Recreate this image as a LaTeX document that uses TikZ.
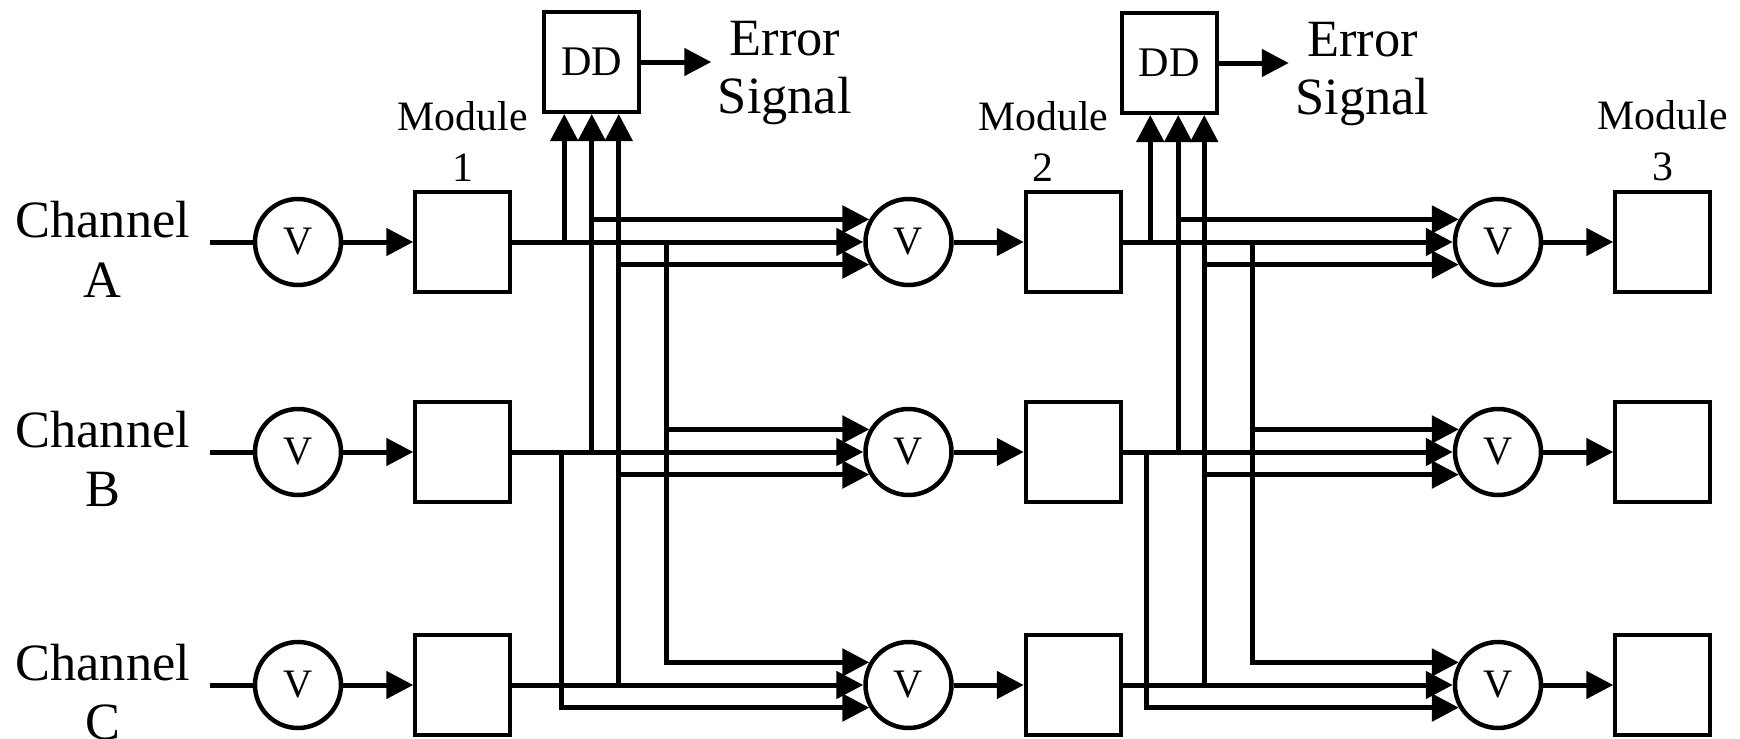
\documentclass[tikz,border=0pt]{standalone}
\usepackage{fontspec}
\setmainfont{Liberation Serif}
\usepackage{tikz}
\usetikzlibrary{arrows.meta, positioning, calc}
\tikzset{
  voter/.style={circle, draw=black, line width=0.045cm, minimum size=0.86cm,
    inner sep=0pt, font=\fontsize{11.5}{13}\selectfont},
  module/.style={rectangle, draw=black, line width=0.04cm,
    minimum width=0.95cm, minimum height=1.0cm, inner sep=0pt},
  ddblock/.style={module, font=\fontsize{12}{14}\selectfont},
  chlabel/.style={align=center, inner sep=0pt, font=\fontsize{14.9}{17}\selectfont},
  modlabel/.style={align=center, inner sep=0pt, font=\fontsize{11.9}{14.5}\selectfont},
  errlabel/.style={align=center, inner xsep=0.6mm, inner ysep=0pt,
    font=\fontsize{14.9}{16.5}\selectfont},
  arrowline/.style={-{Triangle[length=2.7mm, width=2.7mm]}, line width=0.05cm},
  wireline/.style={line width=0.05cm}
}

\begin{document}
\begin{tikzpicture}
  \useasboundingbox (0,0) rectangle (17.40,-7.39);

  % channel A
  \node[voter] (vA1) at (2.98,-2.42) {V};
  \node[module, right=7mm of vA1] (mA1) {};
  \node[voter, right=35.1mm of mA1] (vA2) {V};
  \node[module, right=7mm of vA2] (mA2) {};
  \node[voter, right=33mm of mA2] (vA3) {V};
  \node[module, right=7mm of vA3] (mA3) {};
  % channel B
  \node[voter] (vB1) at (2.98,-4.52) {V};
  \node[module, right=7mm of vB1] (mB1) {};
  \node[voter, right=35.1mm of mB1] (vB2) {V};
  \node[module, right=7mm of vB2] (mB2) {};
  \node[voter, right=33mm of mB2] (vB3) {V};
  \node[module, right=7mm of vB3] (mB3) {};
  % channel C
  \node[voter] (vC1) at (2.98,-6.85) {V};
  \node[module, right=7mm of vC1] (mC1) {};
  \node[voter, right=35.1mm of mC1] (vC2) {V};
  \node[module, right=7mm of vC2] (mC2) {};
  \node[voter, right=33mm of mC2] (vC3) {V};
  \node[module, right=7mm of vC3] (mC3) {};

  % inputs and labels
  \coordinate[left=4.3mm of vA1.west] (inA);
  \coordinate[left=4.3mm of vB1.west] (inB);
  \coordinate[left=4.3mm of vC1.west] (inC);
  \node[chlabel, left=1.9mm of inA, yshift=-0.7mm] (chA) {Channel\\A};
  \node[chlabel, left=1.9mm of inB, yshift=-0.7mm] (chB) {Channel\\B};
  \node[chlabel, left=1.9mm of inC, yshift=-0.7mm] (chC) {Channel\\C};
  \node[modlabel, above=0.8mm of mA1] (lab1) {Module\\1};
  \node[modlabel, above=0.8mm of mA2, xshift=-3mm] (lab2) {Module\\2};
  \node[modlabel, above=0.8mm of mA3] (lab3) {Module\\3};

  % disagreement detectors
  \node[ddblock, above right=7.6mm and 3mm of mA1] (dd1) {DD};
  \node[ddblock, above right=7.5mm and -0.3mm of mA2] (dd2) {DD};
  \node[errlabel, right=7mm of dd1, yshift=-1.1mm] (err1) {Error\\Signal};
  \node[errlabel, right=7mm of dd2, yshift=-1.1mm] (err2) {Error\\Signal};

  \coordinate (ddA1) at ($(dd1.south)+(-2.75mm,0)$);
  \coordinate (ddB1) at (dd1.south);
  \coordinate (ddC1) at ($(dd1.south)+(2.7mm,0)$);
  \coordinate (ddA2) at ($(dd2.south)+(-1.9mm,0)$);
  \coordinate (ddB2) at ($(dd2.south)+(0.9mm,0)$);
  \coordinate (ddC2) at ($(dd2.south)+(3.5mm,0)$);
  \coordinate (dnA1) at ($(mA1.east)+(15.4mm,0)$);
  \coordinate (dnB1) at ($(mB1.east)+(4.9mm,0)$);
  \coordinate (dnA2) at ($(mA2.east)+(12.95mm,0)$);
  \coordinate (dnB2) at ($(mB2.east)+(2.35mm,0)$);

  \draw[wireline] (inA) -- (vA1);
  \draw[wireline] (inB) -- (vB1);
  \draw[wireline] (inC) -- (vC1);
  \draw[arrowline] (vA1) -- (mA1);
  \draw[arrowline] (vB1) -- (mB1);
  \draw[arrowline] (vC1) -- (mC1);
  \draw[arrowline] (vA2) -- (mA2);
  \draw[arrowline] (vB2) -- (mB2);
  \draw[arrowline] (vC2) -- (mC2);
  \draw[arrowline] (vA3) -- (mA3);
  \draw[arrowline] (vB3) -- (mB3);
  \draw[arrowline] (vC3) -- (mC3);

  % first stage
  \draw[arrowline] (mA1) -- (vA2);
  \draw[arrowline] (mB1) -- (vB2);
  \draw[arrowline] (mC1) -- (vC2);
  \draw[arrowline] (ddA1 |- mA1.east) -- (ddA1);
  \draw[arrowline] (ddB1 |- mB1.east) -- (ddB1);
  \draw[arrowline] (ddC1 |- mC1.east) -- (ddC1);
  \draw[arrowline] (ddB1 |- vA2.150) -- (vA2.150);
  \draw[arrowline] (ddC1 |- vA2.210) -- (vA2.210);
  \draw[arrowline] (ddC1 |- vB2.210) -- (vB2.210);
  \draw[arrowline] (dnA1) |- (vB2.150);
  \draw[arrowline] (dnA1) |- (vC2.150);
  \draw[arrowline] (dnB1) |- (vC2.210);
  \draw[arrowline] (dd1.east) -- (dd1.east -| err1.west);

  % second stage
  \draw[arrowline] (mA2) -- (vA3);
  \draw[arrowline] (mB2) -- (vB3);
  \draw[arrowline] (mC2) -- (vC3);
  \draw[arrowline] (ddA2 |- mA2.east) -- (ddA2);
  \draw[arrowline] (ddB2 |- mB2.east) -- (ddB2);
  \draw[arrowline] (ddC2 |- mC2.east) -- (ddC2);
  \draw[arrowline] (ddB2 |- vA3.150) -- (vA3.150);
  \draw[arrowline] (ddC2 |- vA3.210) -- (vA3.210);
  \draw[arrowline] (ddC2 |- vB3.210) -- (vB3.210);
  \draw[arrowline] (dnA2) |- (vB3.150);
  \draw[arrowline] (dnA2) |- (vC3.150);
  \draw[arrowline] (dnB2) |- (vC3.210);
  \draw[arrowline] (dd2.east) -- (dd2.east -| err2.west);
\end{tikzpicture}
\end{document}
